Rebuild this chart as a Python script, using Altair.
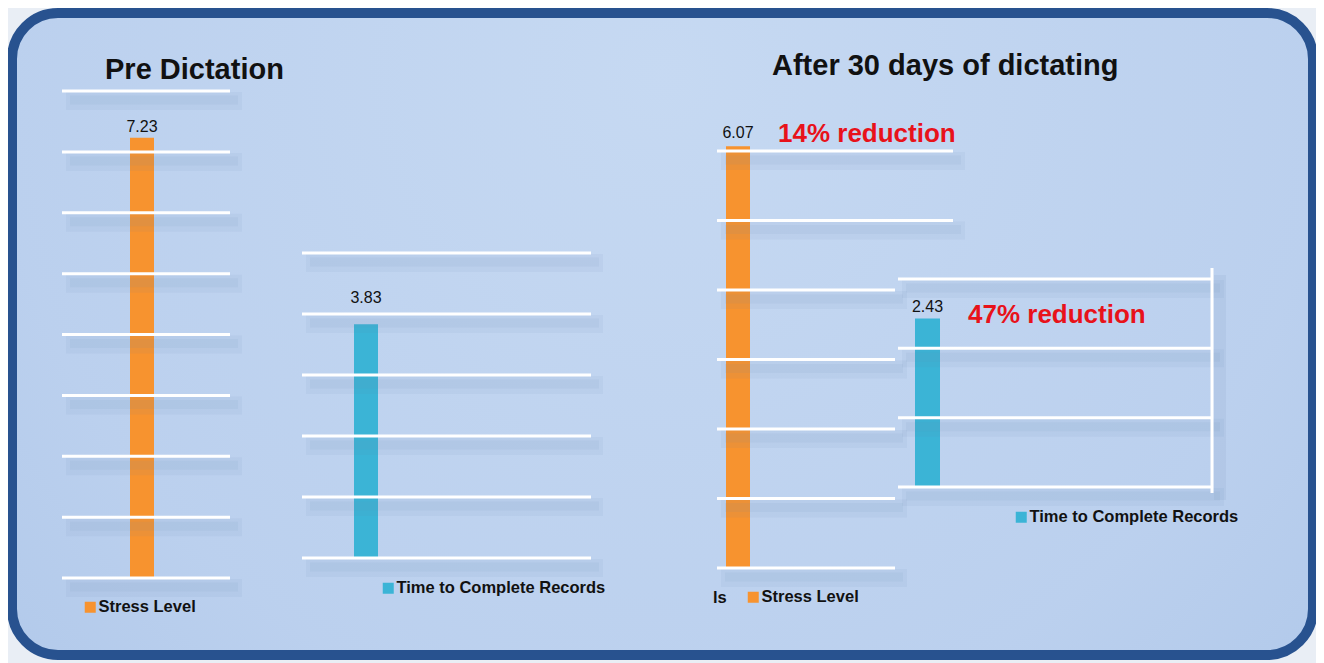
import altair as alt
import pandas as pd

# ---------------- data ----------------
pre_stress_value = [7.23]
pre_time_value = [3.83]
post_stress_value = [6.07]
post_time_value = [2.43]
stress_name = ["Stress Level"]
time_name = ["Time to Complete Records"]
pre_stress_ticks = [0, 1, 2, 3, 4, 5, 6, 7, 8]
pre_time_ticks = [0, 1, 2, 3, 4, 5]
post_stress_ticks = [0, 1, 2, 3, 4, 5, 6]
post_time_ticks = [0, 1, 2, 3]
panel_titles = ["Pre Dictation", "After 30 days of dictating"]
reduction_notes = ["14% reduction", "47% reduction"]
stray_text = ["ls"]

# ---------------- style ----------------
ORANGE = "#f7932f"
CYAN = "#3bb4d6"
RED = "#e8121a"
INK = "#111111"
FONT = "Liberation Sans"
OFF = 8
SHADOW = "#6a86b0"


def P(v):
    return v - OFF


one = pd.DataFrame({"k": [0]})

bg = alt.Chart(one).mark_rect(
    cornerRadius=46,
    stroke="#28528f",
    strokeWidth=10,
    fill=alt.RadialGradient(
        gradient="radial", x1=0.5, y1=0.3, r1=0.0, x2=0.5, y2=0.3, r2=0.85,
        stops=[alt.GradientStop(offset=0, color="#c6d9f2"),
               alt.GradientStop(offset=0.6, color="#bbd0ee"),
               alt.GradientStop(offset=1, color="#a9c3e7")],
    ),
).encode(x=alt.value(P(12)), x2=alt.value(P(1313)), y=alt.value(P(13)), y2=alt.value(P(655)))

bar_layers, shadow_layers, line_layers, text_layers = [], [], [], []


def panel(name, value, ticks, color, yrange, barx, grids, legend_sq, label_dy):
    ys = alt.Scale(domain=[0, max(ticks)], range=[P(yrange[0]), P(yrange[1])])
    xs = alt.Scale(domain=name, range=[P(barx[0]), P(barx[1])], paddingInner=0, paddingOuter=0)
    df = pd.DataFrame({"metric": name, "value": value})
    bar = alt.Chart(df).mark_bar().encode(
        x=alt.X("metric:N", scale=xs, axis=None),
        y=alt.Y("value:Q", scale=ys, axis=None),
        color=alt.Color(
            "metric:N",
            scale=alt.Scale(domain=name, range=[color]),
            legend=alt.Legend(
                orient="none", legendX=P(legend_sq[0]) - 3, legendY=P(legend_sq[1] - 8),
                title=None, symbolType="square", symbolSize=121, symbolStrokeWidth=0,
                labelFont=FONT, labelFontSize=16.5, labelFontWeight="bold", labelColor=INK,
                labelOffset=0, labelLimit=400, padding=0,
            ),
        ),
    )
    bar_layers.append(bar)
    txt = alt.Chart(df).mark_text(
        dy=label_dy, baseline="alphabetic", fontSize=16, font=FONT, color=INK
    ).encode(
        x=alt.X("metric:N", scale=xs, axis=None),
        y=alt.Y("value:Q", scale=ys, axis=None),
        text=alt.Text("value:Q", format=".2f"),
    )
    text_layers.append(txt)
    tdf = pd.DataFrame({"tick": ticks})
    for (lo, hi, x0, x1) in grids:
        base = alt.Chart(tdf).transform_filter(
            (alt.datum.tick >= lo) & (alt.datum.tick <= hi)
        )
        shadow_layers.append(
            base.mark_rule(color=SHADOW, opacity=0.07, strokeWidth=18, yOffset=10).encode(
                y=alt.Y("tick:Q", scale=ys, axis=None),
                x=alt.value(P(x0) + 4), x2=alt.value(P(x1) + 12),
            )
        )
        shadow_layers.append(
            base.mark_rule(color=SHADOW, opacity=0.08, strokeWidth=9, yOffset=9).encode(
                y=alt.Y("tick:Q", scale=ys, axis=None),
                x=alt.value(P(x0) + 8), x2=alt.value(P(x1) + 8),
            )
        )
        line_layers.append(
            base.mark_rule(color="white", strokeWidth=3).encode(
                y=alt.Y("tick:Q", scale=ys, axis=None),
                x=alt.value(P(x0)), x2=alt.value(P(x1)),
            )
        )


panel(stress_name, pre_stress_value, pre_stress_ticks, ORANGE, (578, 91), (130, 154),
      [(0, 8, 62, 230)], (85, 607), -6)
panel(time_name, pre_time_value, pre_time_ticks, CYAN, (558, 253), (354, 378),
      [(0, 5, 302, 591)], (383, 588), -21)
panel(stress_name, post_stress_value, post_stress_ticks, ORANGE, (568, 151), (726, 750),
      [(0, 4, 717, 895), (5, 6, 717, 953)], (748, 597), -8)
panel(time_name, post_time_value, post_time_ticks, CYAN, (487, 279), (915, 940),
      [(0, 3, 898, 1212)], (1016, 517), -7)

vrule = alt.Chart(one).mark_rule(color="white", strokeWidth=3).encode(
    x=alt.value(P(1212)), y=alt.value(P(268)), y2=alt.value(P(493))
)
vshadow = alt.Chart(one).mark_rule(color=SHADOW, opacity=0.1, strokeWidth=12, xOffset=8).encode(
    x=alt.value(P(1212)), y=alt.value(P(275)), y2=alt.value(P(500))
)


def label(txt, x, y, size, color=INK, weight="bold"):
    return alt.Chart(pd.DataFrame({"t": txt})).mark_text(
        align="left", baseline="alphabetic", fontSize=size, fontWeight=weight,
        font=FONT, color=color,
    ).encode(text="t:N", x=alt.value(P(x)), y=alt.value(P(y)))


text_layers += [
    label([panel_titles[0]], 105, 79, 29),
    label([panel_titles[1]], 772, 75, 29),
    label([reduction_notes[0]], 778, 142, 26, RED),
    label([reduction_notes[1]], 968, 323, 26, RED),
    label(stray_text, 713, 603, 16.5),
]

chart = alt.layer(
    bg, *bar_layers, *shadow_layers, vshadow, *line_layers, vrule, *text_layers
).resolve_scale(
    x="independent", y="independent", color="independent"
).resolve_legend(color="independent").properties(
    width=1308, height=655, padding=0,
    autosize=alt.AutoSizeParams(type="none"),
    background="#e9eef5",
).configure_view(stroke=None)

chart.save("out.html", embed_options={"renderer": "svg", "actions": False})
